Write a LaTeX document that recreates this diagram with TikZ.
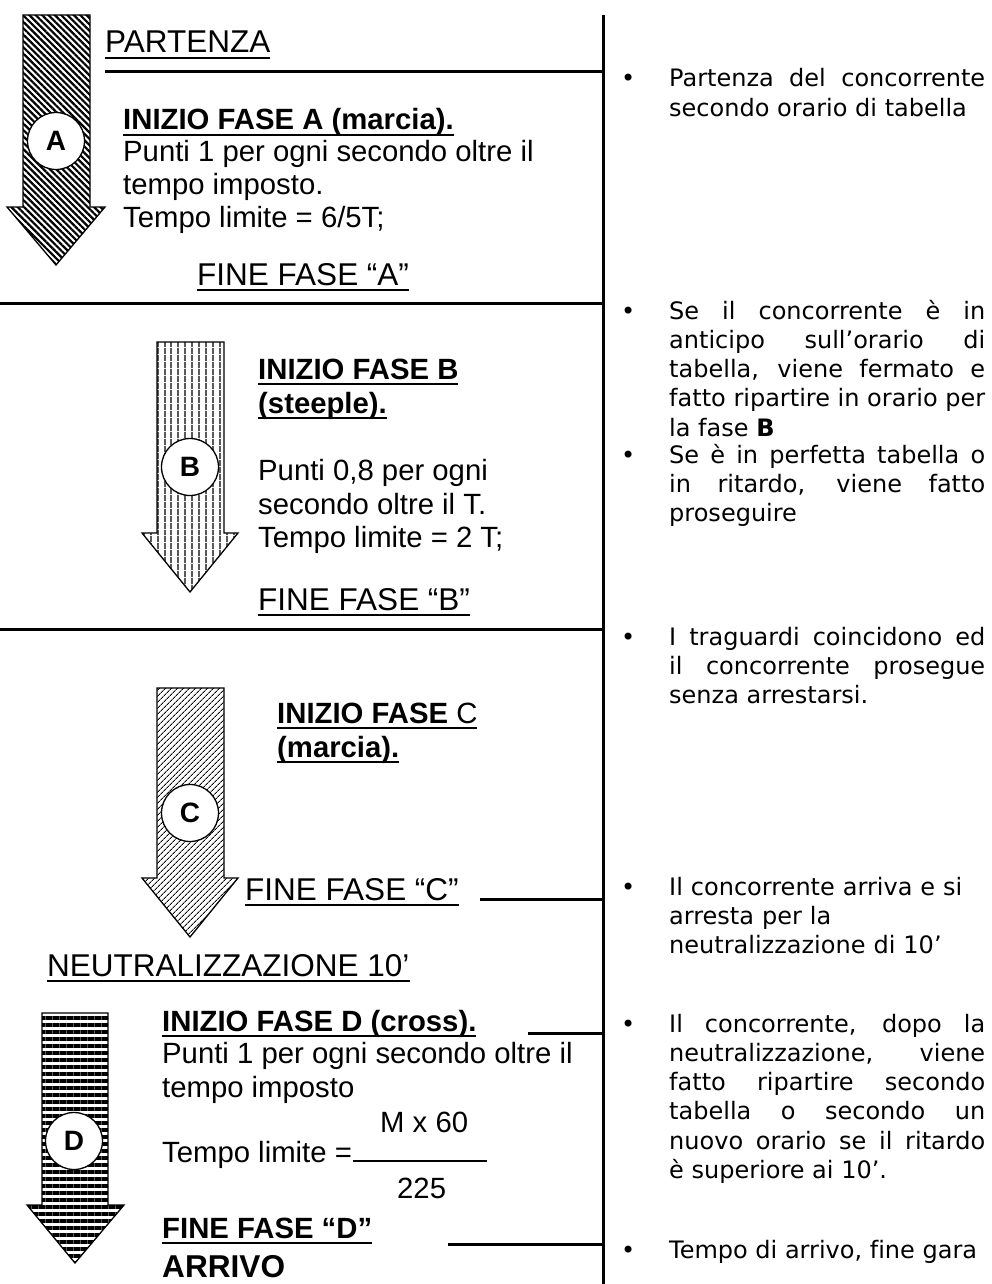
\documentclass[tikz,border=0pt]{standalone}
\usepackage{fontspec}
\setmainfont{Liberation Sans}
\newfontfamily\notefont{DejaVu Sans}[Ligatures=NoCommon]
\usetikzlibrary{patterns.meta}
\newcommand{\ulin}[1]{\setbox0\hbox{#1}\rlap{\rule[-0.2em]{\wd0}{0.075em}}\box0}
\tikzset{
  spine/.style={line width=3pt},
  rulebar/.style={line width=3pt},
  phase/.style={draw, line width=1.3pt, line join=miter},
  phasecirc/.style={draw, circle, fill=white, line width=1.3pt, minimum size=57pt, inner sep=0pt, font=\bfseries\fontsize{28}{28}\selectfont},
  heading/.style={anchor=base west, inner sep=0pt, font=\fontsize{31.5}{34}\selectfont},
  phasetitle/.style={anchor=base west, inner sep=0pt, font=\bfseries\fontsize{29.3}{33}\selectfont},
  bodyline/.style={anchor=base west, inner sep=0pt, font=\fontsize{29.3}{33}\selectfont},
  notetext/.style={anchor=base west, inner sep=0pt, text width=316pt, align=justify, font=\notefont\fontsize{24}{29.3}\selectfont},
  noteleft/.style={notetext, align=left}
}
\begin{document}
\sloppy
\begin{tikzpicture}[x=1pt,y=-1pt]
  \useasboundingbox (0,0) rectangle (991,1284);
  \coordinate (spinetop) at (603,15);
  \coordinate (spinebot) at (603,1284);
  \draw[spine] (spinetop) -- (spinebot);

  \draw[phase, pattern={Lines[angle=-45,distance=4.5pt,line width=2.2pt]}]
    (23,15) -- (90,15) -- (90,207) -- (105,207) -- (56,265) -- (7,207) -- (23,207) -- cycle;
  \draw[phase, pattern={Lines[angle=90,distance=6.5pt,line width=1.2pt]}]
    (157,342) -- (224,342) -- (224,533) -- (238,533) -- (190,592) -- (142,533) -- (157,533) -- cycle;
  \draw[phase, pattern={Lines[angle=45,distance=4pt,line width=1pt]}]
    (157,688) -- (224,688) -- (224,878) -- (238,878) -- (190,937) -- (142,878) -- (157,878) -- cycle;
  \draw[phase, pattern={Lines[angle=0,distance=7pt,line width=4pt]}]
    (42,1013) -- (108,1013) -- (108,1205) -- (124,1205) -- (75,1263) -- (27,1205) -- (42,1205) -- cycle;

  \node[phasecirc] (cA) at (56,141) {A};
  \node[phasecirc] (cB) at (190,467) {B};
  \node[phasecirc] (cC) at (190,813) {C};
  \node[phasecirc] (cD) at (74,1141) {D};

  \node[heading] (partenza) at (105,53) {\ulin{PARTENZA}};
  \draw[rulebar] (105,72) -- (105,72 -| spinetop);
  \node[phasetitle] (iniA) at (123,130) {\ulin{INIZIO FASE A (marcia).}};
  \node[bodyline] (ptA1) at (123,162) {Punti 1 per ogni secondo oltre il};
  \node[bodyline] (ptA2) at (123,195) {tempo imposto.};
  \node[bodyline] (limA) at (123,227) {Tempo limite = 6/5T;};
  \node[heading] (fineA) at (197,285) {\ulin{FINE FASE “A”}};
  \draw[rulebar] (0,303) -- (0,303 -| spinetop);

  \node[phasetitle] (iniB1) at (258,379) {\ulin{INIZIO FASE B}};
  \node[phasetitle] (iniB2) at (258,413) {\ulin{(steeple).}};
  \node[bodyline] (ptB1) at (258,480) {Punti 0,8 per ogni};
  \node[bodyline] (ptB2) at (258,514) {secondo oltre il T.};
  \node[bodyline] (limB) at (258,547) {Tempo limite = 2 T;};
  \node[heading] (fineB) at (258,610) {\ulin{FINE FASE “B”}};
  \draw[rulebar] (0,629) -- (0,629 -| spinetop);

  \node[bodyline] (iniC1) at (277,723) {\ulin{\textbf{INIZIO FASE} C}};
  \node[phasetitle] (iniC2) at (277,757) {\ulin{(marcia).}};
  \node[heading] (fineC) at (245,900) {\ulin{FINE FASE “C”}};
  \draw[rulebar] (480,899) -- (480,899 -| spinetop);

  \node[heading] (neutro) at (47,976) {\ulin{NEUTRALIZZAZIONE 10’}};

  \node[phasetitle] (iniD) at (162,1031) {\ulin{INIZIO FASE D (cross).}};
  \draw[rulebar] (528,1033) -- (528,1033 -| spinetop);
  \node[bodyline] (ptD1) at (162,1063) {Punti 1 per ogni secondo oltre il};
  \node[bodyline] (ptD2) at (162,1097) {tempo imposto};
  \node[bodyline] (numD) at (380,1132) {M x 60};
  \node[bodyline] (limD) at (162,1162) {Tempo limite =};
  \draw[line width=1.8pt] (353,1161) -- (487,1161);
  \node[bodyline] (denD) at (397,1198) {225};
  \node[phasetitle] (fineD) at (162,1238) {\ulin{FINE FASE “D”}};
  \draw[rulebar] (448,1244) -- (448,1244 -| spinetop);
  \node[phasetitle, font=\bfseries\fontsize{31.6}{33}\selectfont] (arrivo) at (162,1277) {ARRIVO};

  \node[notetext] (n1) at (669,87) {\llap{•\hspace{34pt}}Partenza del concorrente\linebreak secondo orario di tabella};
  \node[notetext] (n2) at (669,319) {\llap{•\hspace{34pt}}Se il concorrente è in\linebreak anticipo sull’orario di\linebreak tabella, viene fermato e\linebreak fatto ripartire in orario per\linebreak la fase \textbf{B}};
  \node[notetext] (n3) at (669,463) {\llap{•\hspace{34pt}}Se è in perfetta tabella o\linebreak in ritardo, viene fatto\linebreak proseguire};
  \node[notetext] (n4) at (669,645) {\llap{•\hspace{34pt}}I traguardi coincidono ed\linebreak il concorrente prosegue\linebreak senza arrestarsi.};
  \node[noteleft] (n5) at (669,895) {\llap{•\hspace{34pt}}Il concorrente arriva e si\\ arresta per la\\ neutralizzazione di 10’};
  \node[notetext] (n6) at (669,1032) {\llap{•\hspace{34pt}}Il concorrente, dopo la\linebreak neutralizzazione, viene\linebreak fatto ripartire secondo\linebreak tabella o secondo un\linebreak nuovo orario se il ritardo\linebreak è superiore ai 10’.};
  \node[notetext] (n7) at (669,1258) {\llap{•\hspace{34pt}}Tempo di arrivo, fine gara};
\end{tikzpicture}
\end{document}
